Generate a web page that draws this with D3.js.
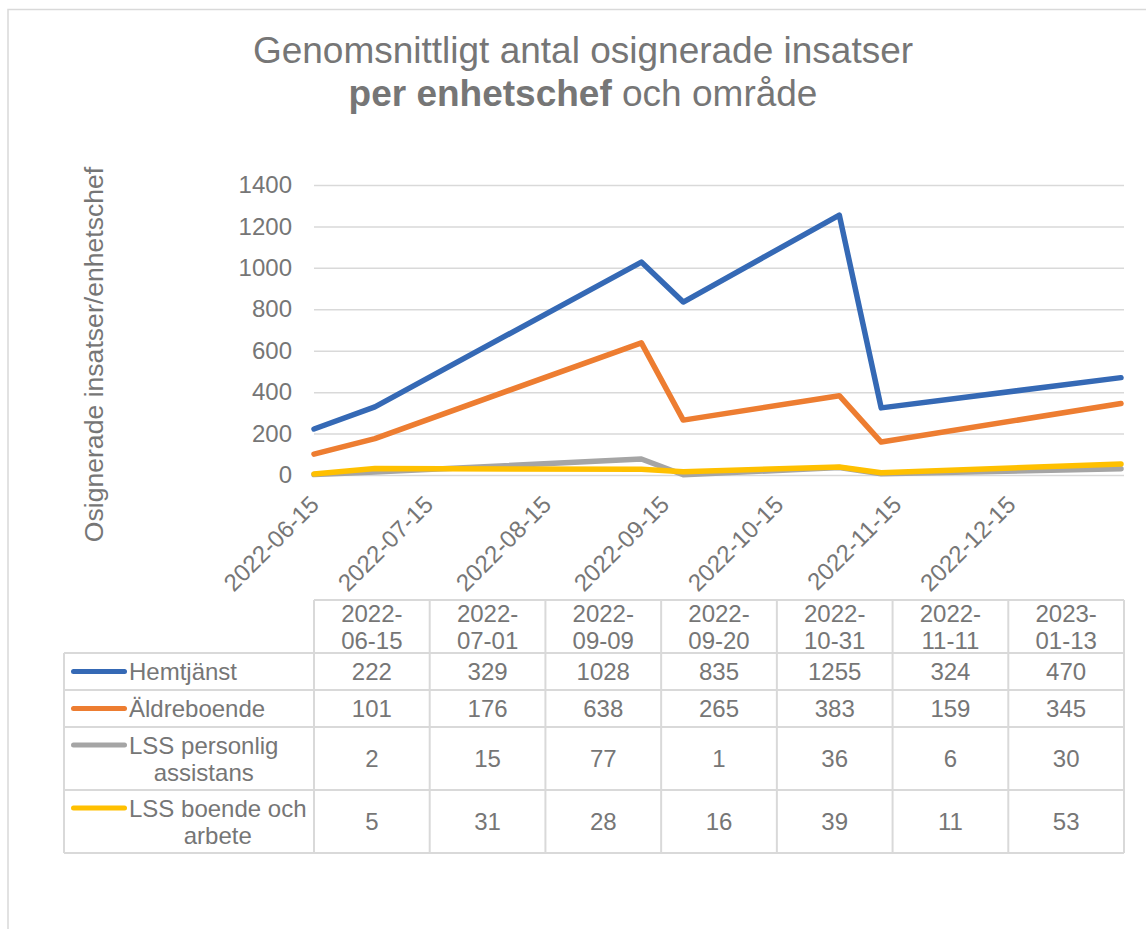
<!DOCTYPE html>
<html>
<head>
<meta charset="utf-8">
<script src="https://cdn.jsdelivr.net/npm/d3@7"></script>
<style>
  body { margin: 0; background: #fff; }
  svg { display: block; font-family: "Liberation Sans", Arial, sans-serif; }
  .grid line { stroke: #d9d9d9; stroke-width: 1.5px; }
  .grid .domain { display: none; }
  text { fill: #767676; }
</style>
</head>
<body>
<div id="chart-area"></div>
<script>
// chart values
const dates = ["2022-06-15", "2022-07-01", "2022-09-09", "2022-09-20", "2022-10-31", "2022-11-11", "2023-01-13"];
const seriesNames = ["Hemtjänst", "Äldreboende", "LSS personlig assistans", "LSS boende och arbete"];
const hemtjanst = [222, 329, 1028, 835, 1255, 324, 470];
const aldreboende = [101, 176, 638, 265, 383, 159, 345];
const lssPersonlig = [2, 15, 77, 1, 36, 6, 30];
const lssBoende = [5, 31, 28, 16, 39, 11, 53];
const xTicks = ["2022-06-15", "2022-07-15", "2022-08-15", "2022-09-15", "2022-10-15", "2022-11-15", "2022-12-15"];
const yTicks = [0, 200, 400, 600, 800, 1000, 1200, 1400];
const colors = ["#3569b5", "#ed7d31", "#a5a5a5", "#ffc000"];

const parseTime = d3.utcParse("%Y-%m-%d");
const fmt = d3.utcFormat("%Y-%m-%d");

const W = 1146, H = 929;
const MARGIN = {LEFT: 314, RIGHT: 22, TOP: 185};
const PLOT_H = 290;
const PLOT_R = W - MARGIN.RIGHT;    // right edge of plot + table
const FONT = 24;

const values = [hemtjanst, aldreboende, lssPersonlig, lssBoende];
const series = seriesNames.map((name, i) => ({
    name, color: colors[i],
    points: dates.map((d, j) => ({date: parseTime(d), value: values[i][j]}))
}));

const svg = d3.select("#chart-area").append("svg")
    .attr("width", W).attr("height", H);

// chart area border
svg.append("rect")
    .attr("x", 8).attr("y", 9.5)
    .attr("width", W + 20).attr("height", H + 20)
    .attr("fill", "none").attr("stroke", "#d9d9d9").attr("stroke-width", 1.5);

// title
const title = svg.append("text")
    .attr("x", 583).attr("text-anchor", "middle")
    .style("font-size", "37px");
title.append("tspan").attr("x", 583).attr("y", 63).text("Genomsnittligt antal osignerade insatser");
title.append("tspan").attr("x", 583).attr("y", 106).attr("font-weight", "bold").text("per enhetschef");
title.append("tspan").text(" och område");

// scales
const xScale = d3.scaleUtc()
    .domain([parseTime(dates[0]), parseTime(dates[dates.length - 1])])
    .range([MARGIN.LEFT, PLOT_R - 3]);
const yScale = d3.scaleLinear()
    .domain([0, 1400])
    .range([MARGIN.TOP + PLOT_H, MARGIN.TOP]);

// y axis with gridlines
const yAxis = svg.append("g")
    .attr("class", "grid")
    .attr("transform", `translate(${MARGIN.LEFT}, 0)`)
    .call(d3.axisLeft(yScale).tickValues(yTicks).tickFormat(d3.format("d"))
        .tickSize(-(PLOT_R - MARGIN.LEFT)).tickPadding(22));
yAxis.selectAll("text")
    .style("font-size", FONT + "px").attr("fill", "#767676")
    .attr("font-family", "Liberation Sans, Arial, sans-serif");

svg.append("text")
    .attr("transform", `translate(103, 354.5) rotate(-90)`)
    .attr("text-anchor", "middle")
    .style("font-size", "26.6px")
    .text("Osignerade insatser/enhetschef");

// x axis labels (rotated)
const xAxis = svg.append("g")
    .attr("class", "grid")
    .attr("transform", `translate(0, ${MARGIN.TOP + PLOT_H})`)
    .call(d3.axisBottom(xScale).tickValues(xTicks.map(parseTime)).tickSize(0).tickFormat(fmt));
xAxis.selectAll("text")
    .style("font-size", FONT + "px").attr("fill", "#767676")
    .attr("font-family", "Liberation Sans, Arial, sans-serif")
    .attr("text-anchor", "end")
    .attr("y", 0).attr("dy", 0)
    .attr("transform", "translate(6, 31) rotate(-45)");

// lines
const line = d3.line()
    .x(d => xScale(d.date))
    .y(d => yScale(d.value));

svg.append("g").selectAll("path")
    .data(series)
    .join("path")
    .attr("fill", "none")
    .attr("stroke", d => d.color)
    .attr("stroke-width", 5.5)
    .attr("stroke-linejoin", "round")
    .attr("stroke-linecap", "round")
    .attr("d", d => line(d.points));

/******************************** Data table ********************************/

const table = svg.append("g");
const BORDER = "#d9d9d9";
const LINE_H = 27;
const TEXT_X = 129;
const colW = (PLOT_R - MARGIN.LEFT) / dates.length;

// measure + wrap series names
function wrap(text, maxW) {
    const probe = svg.append("text").style("font-size", FONT + "px");
    const words = text.split(" ");
    const lines = [];
    let cur = "";
    words.forEach(w => {
        const test = cur ? cur + " " + w : w;
        probe.text(test);
        if (probe.node().getComputedTextLength() > maxW && cur) {
            lines.push(cur);
            cur = w;
        } else {
            cur = test;
        }
    });
    lines.push(cur);
    const widths = lines.map(l => { probe.text(l); return probe.node().getComputedTextLength(); });
    probe.remove();
    return {lines, width: d3.max(widths)};
}

const HEADER_TOP = 600, HEADER_H = 53;
const rows = [];
let rowTop = HEADER_TOP + HEADER_H;
series.forEach(s => {
    const w = wrap(s.name, 182);
    const h = 11 + 26 * w.lines.length;
    rows.push({s, wrapped: w, y0: rowTop, h});
    rowTop += h;
});
const tableBottom = rowTop;

// header cells
dates.forEach((d, j) => {
    const cx = MARGIN.LEFT + colW * (j + 0.5);
    const parts = [d.slice(0, 5), d.slice(5)];
    const mid = HEADER_TOP + HEADER_H / 2;
    parts.forEach((p, k) => {
        table.append("text")
            .attr("x", cx)
            .attr("y", mid + (k - 0.5) * LINE_H + FONT * 0.36)
            .attr("text-anchor", "middle")
            .style("font-size", FONT + "px")
            .text(p);
    });
});

// data rows
rows.forEach(r => {
    const mid = r.y0 + r.h / 2;
    const n = r.wrapped.lines.length;
    const firstMid = mid - (n - 1) * LINE_H / 2;
    // legend key
    table.append("line")
        .attr("x1", 73.5).attr("x2", 124.5)
        .attr("y1", firstMid).attr("y2", firstMid)
        .attr("stroke", r.s.color).attr("stroke-width", 5)
        .attr("stroke-linecap", "round");
    r.wrapped.lines.forEach((l, k) => {
        table.append("text")
            .attr("x", n > 1 ? TEXT_X + r.wrapped.width / 2 : TEXT_X)
            .attr("text-anchor", n > 1 ? "middle" : "start")
            .attr("y", firstMid + k * LINE_H + FONT * 0.36)
            .style("font-size", FONT + "px")
            .text(l);
    });
    r.s.points.forEach((p, j) => {
        table.append("text")
            .attr("x", MARGIN.LEFT + colW * (j + 0.5))
            .attr("y", mid + FONT * 0.36)
            .attr("text-anchor", "middle")
            .style("font-size", FONT + "px")
            .text(p.value);
    });
});

// table borders
const hLines = [[MARGIN.LEFT, HEADER_TOP]].concat(rows.map(r => [64, r.y0]), [[64, tableBottom]]);
hLines.forEach(([x1, y]) => {
    table.append("line")
        .attr("x1", x1).attr("x2", PLOT_R)
        .attr("y1", y).attr("y2", y)
        .attr("stroke", BORDER).attr("stroke-width", 2);
});
table.append("line")
    .attr("x1", 64).attr("x2", 64)
    .attr("y1", HEADER_TOP + HEADER_H).attr("y2", tableBottom)
    .attr("stroke", BORDER).attr("stroke-width", 2);
d3.range(dates.length + 1).forEach(j => {
    const x = MARGIN.LEFT + colW * j;
    table.append("line")
        .attr("x1", x).attr("x2", x)
        .attr("y1", HEADER_TOP).attr("y2", tableBottom)
        .attr("stroke", BORDER).attr("stroke-width", 2);
});
</script>
</body>
</html>
